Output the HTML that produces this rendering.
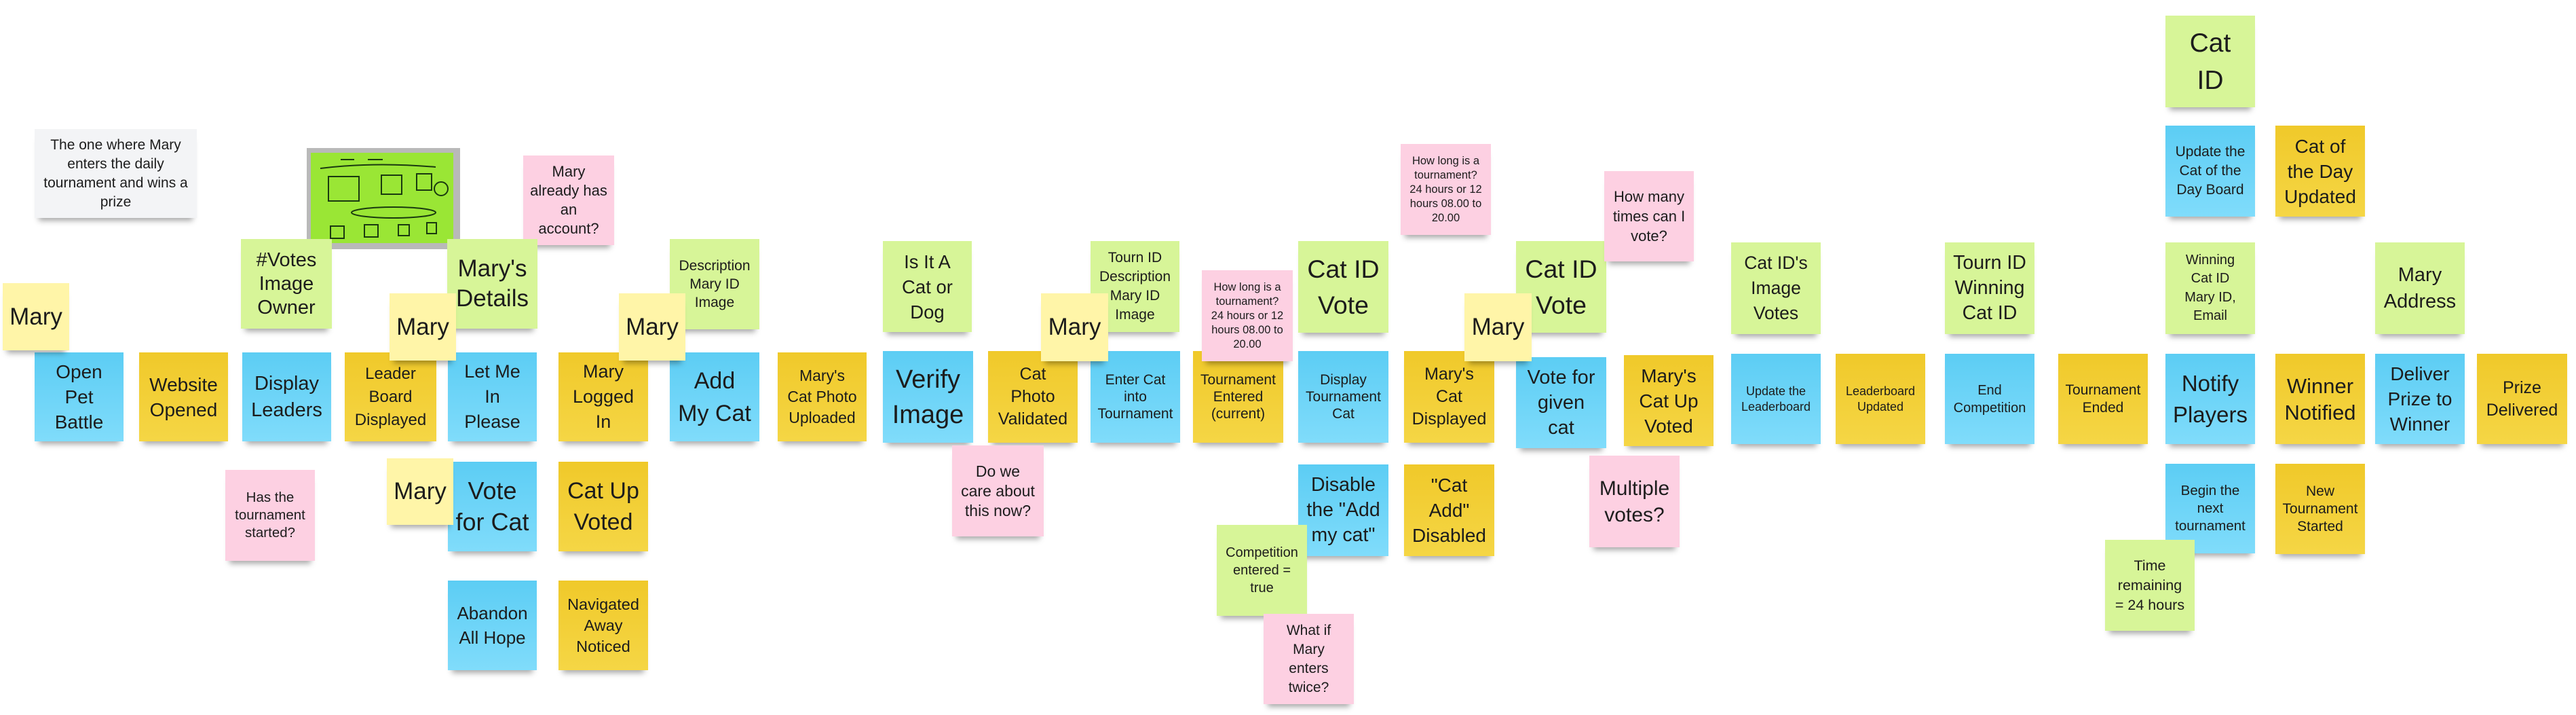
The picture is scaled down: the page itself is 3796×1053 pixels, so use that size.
<!DOCTYPE html>
<html><head><meta charset="utf-8"><style>
html,body{margin:0;padding:0;background:#fff;}
body{width:3796px;height:1053px;position:relative;overflow:hidden;font-family:"Liberation Sans",sans-serif;color:#1c1c1c;}
.n{position:absolute;display:flex;align-items:center;justify-content:center;text-align:center;box-sizing:border-box;padding:2px;white-space:nowrap;box-shadow:0 10px 8px -6px rgba(0,0,0,0.35);}
.b{background:linear-gradient(#5ccdf4,#80dcfb);}
.y{background:linear-gradient(#f0c92a,#f5d645);}
.g{background:#d7f598;}
.p{background:#fdd0e2;}
.m{background:#fff5a8;}
.w{background:#f3f4f6;}
</style></head><body>

<div class="n w" style="left:51px;top:190px;width:239px;height:131px;font-size:21px;line-height:28px;">The one where Mary<br>enters the daily<br>tournament and wins a<br>prize</div>

<svg style="position:absolute;left:452px;top:218px;" width="226" height="149" viewBox="0 0 226 149">
<rect width="226" height="149" fill="#b9b9b9"/>
<rect x="6" y="7" width="210" height="133" fill="#9ae635"/>
<g stroke="#1a3a10" stroke-width="2" fill="none">
<line x1="50" y1="17" x2="70" y2="17"/><line x1="90" y1="17" x2="112" y2="17"/>
<path d="M20 30 Q100 20 190 28"/>
<rect x="32" y="42" width="45" height="36"/><rect x="110" y="40" width="30" height="28"/><rect x="162" y="38" width="22" height="24"/>
<circle cx="198" cy="60" r="10"/>
<ellipse cx="128" cy="95" rx="62" ry="8"/>
<rect x="35" y="115" width="20" height="18"/><rect x="85" y="113" width="20" height="18"/><rect x="135" y="113" width="16" height="16"/><rect x="177" y="110" width="14" height="16"/>
</g></svg>

<div class="n p" style="left:771px;top:229px;width:134px;height:132px;font-size:22px;line-height:28px;">Mary<br>already has<br>an<br>account?</div>

<div class="n g" style="left:355px;top:352px;width:134px;height:132px;font-size:29px;line-height:35px;">#Votes<br>Image<br>Owner</div>
<div class="n g" style="left:659px;top:352px;width:133px;height:132px;font-size:35px;line-height:44px;">Mary's<br>Details</div>
<div class="n g" style="left:987px;top:352px;width:132px;height:133px;font-size:21px;line-height:27px;">Description<br>Mary ID<br>Image</div>

<div class="n b" style="left:51px;top:519px;width:131px;height:131px;font-size:28px;line-height:37px;">Open<br>Pet<br>Battle</div>
<div class="n y" style="left:205px;top:519px;width:131px;height:131px;font-size:28px;line-height:37px;">Website<br>Opened</div>
<div class="n b" style="left:357px;top:519px;width:131px;height:131px;font-size:29px;line-height:39px;">Display<br>Leaders</div>
<div class="n y" style="left:508px;top:519px;width:135px;height:131px;font-size:24px;line-height:34px;">Leader<br>Board<br>Displayed</div>
<div class="n b" style="left:660px;top:519px;width:131px;height:131px;font-size:27px;line-height:37px;">Let Me<br>In<br>Please</div>
<div class="n y" style="left:823px;top:519px;width:132px;height:131px;font-size:27px;line-height:37px;">Mary<br>Logged<br>In</div>
<div class="n b" style="left:987px;top:519px;width:132px;height:131px;font-size:34px;line-height:48px;">Add<br>My Cat</div>
<div class="n y" style="left:1146px;top:519px;width:131px;height:131px;font-size:23px;line-height:31px;">Mary's<br>Cat Photo<br>Uploaded</div>

<div class="n p" style="left:332px;top:692px;width:132px;height:134px;font-size:20.5px;line-height:26px;">Has the<br>tournament<br>started?</div>
<div class="n b" style="left:660px;top:680px;width:131px;height:132px;font-size:36px;line-height:46px;">Vote<br>for Cat</div>
<div class="n y" style="left:823px;top:680px;width:132px;height:132px;font-size:34px;line-height:46px;">Cat Up<br>Voted</div>
<div class="n b" style="left:660px;top:855px;width:131px;height:132px;font-size:26px;line-height:36px;">Abandon<br>All Hope</div>
<div class="n y" style="left:823px;top:855px;width:132px;height:132px;font-size:23.5px;line-height:31px;">Navigated<br>Away<br>Noticed</div>

<div class="n m" style="left:4px;top:417px;width:98px;height:99px;font-size:35px;">Mary</div>
<div class="n m" style="left:574px;top:432px;width:98px;height:99px;font-size:35px;">Mary</div>
<div class="n m" style="left:912px;top:432px;width:98px;height:99px;font-size:35px;">Mary</div>
<div class="n m" style="left:570px;top:675px;width:98px;height:98px;font-size:35px;">Mary</div>

<!-- middle -->
<div class="n g" style="left:1301px;top:355px;width:131px;height:134px;font-size:27.5px;line-height:37px;">Is It A<br>Cat or<br>Dog</div>
<div class="n g" style="left:1607px;top:355px;width:131px;height:134px;font-size:21px;line-height:28px;">Tourn ID<br>Description<br>Mary ID<br>Image</div>
<div class="n g" style="left:1913px;top:355px;width:133px;height:135px;font-size:37.5px;line-height:53px;">Cat ID<br>Vote</div>
<div class="n g" style="left:2234px;top:355px;width:133px;height:135px;font-size:37.5px;line-height:53px;">Cat ID<br>Vote</div>
<div class="n p" style="left:2064px;top:212px;width:133px;height:134px;font-size:16.5px;line-height:21px;">How long is a<br>tournament?<br>24 hours or 12<br>hours 08.00 to<br>20.00</div>
<div class="n p" style="left:2364px;top:252px;width:132px;height:133px;font-size:22px;line-height:29px;">How many<br>times can I<br>vote?</div>

<div class="n b" style="left:1301px;top:517px;width:133px;height:135px;font-size:38px;line-height:52px;">Verify<br>Image</div>
<div class="n y" style="left:1456px;top:517px;width:132px;height:135px;font-size:25px;line-height:33px;">Cat<br>Photo<br>Validated</div>
<div class="n b" style="left:1607px;top:517px;width:132px;height:135px;font-size:21px;line-height:25px;">Enter Cat<br>into<br>Tournament</div>
<div class="n y" style="left:1758px;top:517px;width:133px;height:135px;font-size:21px;line-height:25px;">Tournament<br>Entered<br>(current)</div>
<div class="n p" style="left:1771px;top:398px;width:134px;height:134px;font-size:16.5px;line-height:21px;">How long is a<br>tournament?<br>24 hours or 12<br>hours 08.00 to<br>20.00</div>
<div class="n b" style="left:1913px;top:517px;width:133px;height:135px;font-size:21px;line-height:25px;">Display<br>Tournament<br>Cat</div>
<div class="n y" style="left:2069px;top:517px;width:133px;height:135px;font-size:25px;line-height:33px;">Mary's<br>Cat<br>Displayed</div>
<div class="n b" style="left:2234px;top:526px;width:133px;height:134px;font-size:29px;line-height:37px;">Vote for<br>given<br>cat</div>
<div class="n y" style="left:2393px;top:523px;width:132px;height:134px;font-size:28px;line-height:37px;">Mary's<br>Cat Up<br>Voted</div>

<div class="n m" style="left:1534px;top:432px;width:99px;height:100px;font-size:35px;">Mary</div>
<div class="n m" style="left:2158px;top:432px;width:99px;height:100px;font-size:35px;">Mary</div>

<div class="n p" style="left:1403px;top:656px;width:135px;height:134px;font-size:23px;line-height:29px;">Do we<br>care about<br>this now?</div>
<div class="n b" style="left:1913px;top:684px;width:133px;height:135px;font-size:28.5px;line-height:37px;">Disable<br>the "Add<br>my cat"</div>
<div class="n y" style="left:2069px;top:684px;width:133px;height:135px;font-size:28px;line-height:37px;">"Cat<br>Add"<br>Disabled</div>
<div class="n p" style="left:2342px;top:671px;width:133px;height:135px;font-size:30px;line-height:39px;">Multiple<br>votes?</div>
<div class="n g" style="left:1793px;top:773px;width:133px;height:134px;font-size:20px;line-height:26px;">Competition<br>entered =<br>true</div>
<div class="n p" style="left:1862px;top:904px;width:133px;height:133px;font-size:21px;line-height:28px;">What if<br>Mary<br>enters<br>twice?</div>

<!-- right -->
<div class="n g" style="left:3191px;top:23px;width:132px;height:135px;font-size:39px;line-height:55px;">Cat<br>ID</div>
<div class="n b" style="left:3191px;top:185px;width:132px;height:134px;font-size:21px;line-height:28px;">Update the<br>Cat of the<br>Day Board</div>
<div class="n y" style="left:3353px;top:185px;width:132px;height:134px;font-size:28px;line-height:37px;">Cat of<br>the Day<br>Updated</div>
<div class="n g" style="left:2551px;top:357px;width:132px;height:135px;font-size:26.5px;line-height:37px;">Cat ID's<br>Image<br>Votes</div>
<div class="n g" style="left:2866px;top:357px;width:132px;height:135px;font-size:28.5px;line-height:37px;">Tourn ID<br>Winning<br>Cat ID</div>
<div class="n g" style="left:3191px;top:357px;width:132px;height:135px;font-size:20px;line-height:27.5px;">Winning<br>Cat ID<br>Mary ID,<br>Email</div>
<div class="n g" style="left:3500px;top:357px;width:132px;height:135px;font-size:29px;line-height:39px;">Mary<br>Address</div>

<div class="n b" style="left:2551px;top:521px;width:132px;height:133px;font-size:18px;line-height:23px;">Update the<br>Leaderboard</div>
<div class="n y" style="left:2705px;top:521px;width:132px;height:133px;font-size:18px;line-height:23px;">Leaderboard<br>Updated</div>
<div class="n b" style="left:2866px;top:521px;width:132px;height:133px;font-size:20px;line-height:26px;">End<br>Competition</div>
<div class="n y" style="left:3033px;top:521px;width:132px;height:133px;font-size:21px;line-height:26px;">Tournament<br>Ended</div>
<div class="n b" style="left:3191px;top:521px;width:132px;height:133px;font-size:33px;line-height:46px;">Notify<br>Players</div>
<div class="n y" style="left:3353px;top:521px;width:132px;height:133px;font-size:31px;line-height:39px;">Winner<br>Notified</div>
<div class="n b" style="left:3500px;top:521px;width:132px;height:133px;font-size:28px;line-height:37px;">Deliver<br>Prize to<br>Winner</div>
<div class="n y" style="left:3650px;top:521px;width:133px;height:133px;font-size:25px;line-height:33px;">Prize<br>Delivered</div>

<div class="n b" style="left:3191px;top:683px;width:132px;height:132px;font-size:20.5px;line-height:26px;">Begin the<br>next<br>tournament</div>
<div class="n y" style="left:3353px;top:683px;width:132px;height:133px;font-size:21px;line-height:26px;">New<br>Tournament<br>Started</div>
<div class="n g" style="left:3102px;top:795px;width:132px;height:134px;font-size:21.5px;line-height:29px;">Time<br>remaining<br>= 24 hours</div>

</body></html>
